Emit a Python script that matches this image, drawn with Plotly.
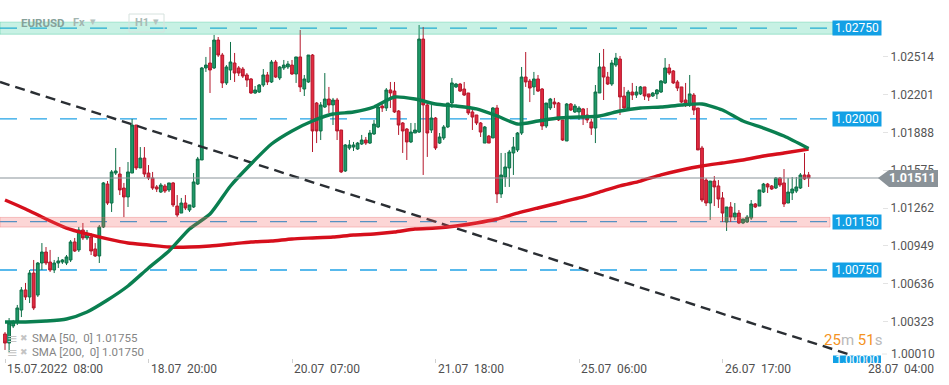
import plotly.graph_objects as go

# ---------------- data (EURUSD, H1 bars) ----------------
bar_index = list(range(197))

open_ = [
    1.00221, 1.00146, 1.00287, 1.00328, 1.00419, 1.00585, 1.00527, 1.00725, 1.00543, 1.00808,
    1.00899, 1.00816, 1.00750, 1.00808, 1.00816, 1.00808, 1.00833, 1.00982, 1.00916, 1.01081,
    1.01015, 1.01023, 1.00924, 1.00866, 1.01106, 1.01461, 1.01304, 1.01552, 1.01544, 1.01428,
    1.01354, 1.01552, 1.01949, 1.01594, 1.01676, 1.01552, 1.01511, 1.01437, 1.01395, 1.01445,
    1.01412, 1.01470, 1.01279, 1.01221, 1.01304, 1.01246, 1.01271, 1.01461, 1.01660, 1.02421,
    1.02462, 1.02421, 1.02652, 1.02528, 1.02297, 1.02404, 1.02462, 1.02421, 1.02412, 1.02363,
    1.02330, 1.02214, 1.02222, 1.02280, 1.02363, 1.02305, 1.02470, 1.02338, 1.02421, 1.02429,
    1.02445, 1.02371, 1.02512, 1.02247, 1.02305, 1.02528, 1.02131, 1.01900, 1.02098, 1.02164,
    1.02115, 1.02156, 1.01908, 1.01569, 1.01759, 1.01767, 1.01751, 1.01792, 1.01825, 1.01800,
    1.01875, 1.01933, 1.02106, 1.02090, 1.02239, 1.02230, 1.02065, 1.01966, 1.01916, 1.01809,
    1.01883, 1.01891, 1.02660, 1.02115, 1.01908, 1.02007, 1.01800, 1.01842, 1.01933, 1.02131,
    1.02264, 1.02288, 1.02247, 1.02214, 1.02057, 1.02032, 1.01966, 1.01800, 1.01858, 1.01842,
    1.02090, 1.01379, 1.01519, 1.01594, 1.01718, 1.01743, 1.01883, 1.02346, 1.02313, 1.02264,
    1.02330, 1.02247, 1.01941, 1.02090, 1.02139, 1.02131, 1.01991, 1.01817, 1.02123, 1.02057,
    1.02057, 1.02082, 1.02032, 1.01974, 1.01924, 1.02214, 1.02429, 1.02346, 1.02288, 1.02445,
    1.02495, 1.02189, 1.02090, 1.02222, 1.02197, 1.02206, 1.02264, 1.02206, 1.02189, 1.02206,
    1.02222, 1.02297, 1.02421, 1.02396, 1.02305, 1.02264, 1.02156, 1.02115, 1.02197, 1.02090,
    1.01759, 1.01494, 1.01304, 1.01486, 1.01445, 1.01346, 1.01147, 1.01271, 1.01188, 1.01221,
    1.01139, 1.01147, 1.01180, 1.01296, 1.01279, 1.01395, 1.01461, 1.01445, 1.01428, 1.01511,
    1.01470, 1.01304, 1.01387, 1.01403, 1.01428, 1.01536, 1.01536,
]

high_ = [
    1.00237, 1.00353, 1.00337, 1.00461, 1.00609, 1.00643, 1.00750, 1.00833, 1.00816, 1.00973,
    1.00940, 1.00916, 1.00833, 1.00858, 1.00841, 1.00874, 1.00998, 1.01015, 1.01106, 1.01139,
    1.01081, 1.01056, 1.00973, 1.01122, 1.01478, 1.01486, 1.01577, 1.01759, 1.01602, 1.01470,
    1.01643, 1.01999, 1.01949, 1.01767, 1.01767, 1.01618, 1.01561, 1.01453, 1.01470, 1.01461,
    1.01470, 1.01478, 1.01370, 1.01346, 1.01370, 1.01288, 1.01552, 1.01685, 1.02429, 1.02512,
    1.02594, 1.02694, 1.02677, 1.02545, 1.02445, 1.02636, 1.02545, 1.02437, 1.02429, 1.02379,
    1.02338, 1.02272, 1.02288, 1.02412, 1.02388, 1.02487, 1.02487, 1.02437, 1.02487, 1.02479,
    1.02487, 1.02512, 1.02735, 1.02363, 1.02528, 1.02536, 1.02139, 1.02139, 1.02379, 1.02264,
    1.02173, 1.02173, 1.01908, 1.01792, 1.01825, 1.01809, 1.01809, 1.01867, 1.01850, 1.01908,
    1.01991, 1.02106, 1.02131, 1.02255, 1.02305, 1.02305, 1.02073, 1.01974, 1.01924, 1.01966,
    1.01966, 1.02776, 1.02760, 1.02131, 1.02115, 1.02015, 1.01883, 1.01949, 1.02131, 1.02338,
    1.02297, 1.02297, 1.02305, 1.02214, 1.02073, 1.02032, 1.01974, 1.01941, 1.01867, 1.02098,
    1.02115, 1.01718, 1.01718, 1.01743, 1.01850, 1.01891, 1.02429, 1.02553, 1.02330, 1.02388,
    1.02363, 1.02255, 1.02131, 1.02173, 1.02173, 1.02139, 1.01991, 1.02131, 1.02131, 1.02123,
    1.02106, 1.02090, 1.02090, 1.01999, 1.02280, 1.02545, 1.02578, 1.02388, 1.02487, 1.02545,
    1.02520, 1.02264, 1.02239, 1.02297, 1.02272, 1.02272, 1.02264, 1.02206, 1.02222, 1.02247,
    1.02321, 1.02503, 1.02454, 1.02404, 1.02321, 1.02264, 1.02297, 1.02363, 1.02214, 1.02090,
    1.01776, 1.01511, 1.01486, 1.01527, 1.01494, 1.01395, 1.01271, 1.01312, 1.01304, 1.01246,
    1.01172, 1.01205, 1.01329, 1.01304, 1.01412, 1.01470, 1.01470, 1.01453, 1.01519, 1.01519,
    1.01585, 1.01511, 1.01519, 1.01519, 1.01552, 1.01718, 1.01561,
]

low_ = [
    1.00089, 1.00072, 1.00270, 1.00295, 1.00361, 1.00502, 1.00477, 1.00419, 1.00527, 1.00750,
    1.00791, 1.00734, 1.00725, 1.00767, 1.00800, 1.00791, 1.00816, 1.00899, 1.00899, 1.00998,
    1.00998, 1.00874, 1.00858, 1.00808, 1.01097, 1.01288, 1.01230, 1.01536, 1.01370, 1.01188,
    1.01271, 1.01552, 1.01577, 1.01594, 1.01519, 1.01494, 1.01412, 1.01395, 1.01387, 1.01387,
    1.01395, 1.01271, 1.01188, 1.01221, 1.01246, 1.01230, 1.01263, 1.01453, 1.01660, 1.02388,
    1.02214, 1.02412, 1.02512, 1.02255, 1.02280, 1.02321, 1.02305, 1.02354, 1.02338, 1.02264,
    1.02206, 1.02206, 1.02214, 1.02264, 1.02280, 1.02297, 1.02338, 1.02321, 1.02404, 1.02412,
    1.02363, 1.02297, 1.02222, 1.02189, 1.02297, 1.01726, 1.01800, 1.01825, 1.02090, 1.02049,
    1.01949, 1.01825, 1.01552, 1.01561, 1.01743, 1.01734, 1.01743, 1.01784, 1.01784, 1.01792,
    1.01867, 1.01924, 1.02057, 1.02065, 1.02090, 1.02049, 1.01867, 1.01718, 1.01660, 1.01800,
    1.01883, 1.01883, 1.01536, 1.01685, 1.01883, 1.01743, 1.01792, 1.01825, 1.01924, 1.02090,
    1.02255, 1.02222, 1.02189, 1.02032, 1.01908, 1.01949, 1.01850, 1.01800, 1.01800, 1.01842,
    1.01304, 1.01346, 1.01437, 1.01437, 1.01536, 1.01726, 1.01867, 1.02264, 1.02139, 1.02197,
    1.02222, 1.01908, 1.01924, 1.02073, 1.02090, 1.01982, 1.01817, 1.01817, 1.02065, 1.02049,
    1.01991, 1.01949, 1.01966, 1.01867, 1.01800, 1.02214, 1.02156, 1.02280, 1.02272, 1.02429,
    1.02032, 1.02057, 1.02073, 1.02156, 1.02173, 1.02197, 1.02156, 1.02148, 1.02181, 1.02164,
    1.02214, 1.02288, 1.02363, 1.02288, 1.02230, 1.02131, 1.02098, 1.02098, 1.02032, 1.01743,
    1.01312, 1.01279, 1.01164, 1.01279, 1.01263, 1.01147, 1.01073, 1.01147, 1.01164, 1.01130,
    1.01130, 1.01139, 1.01164, 1.01263, 1.01279, 1.01387, 1.01387, 1.01412, 1.01420, 1.01437,
    1.01271, 1.01304, 1.01329, 1.01387, 1.01420, 1.01494, 1.01437,
]

close_ = [
    1.00146, 1.00312, 1.00320, 1.00436, 1.00585, 1.00527, 1.00725, 1.00436, 1.00808, 1.00899,
    1.00808, 1.00750, 1.00808, 1.00825, 1.00833, 1.00858, 1.00982, 1.00907, 1.01081, 1.01015,
    1.01048, 1.00907, 1.00866, 1.01106, 1.01470, 1.01304, 1.01561, 1.01569, 1.01412, 1.01354,
    1.01561, 1.01949, 1.01594, 1.01676, 1.01544, 1.01511, 1.01428, 1.01420, 1.01453, 1.01403,
    1.01470, 1.01288, 1.01205, 1.01304, 1.01263, 1.01288, 1.01478, 1.01668, 1.02421, 1.02445,
    1.02404, 1.02652, 1.02528, 1.02297, 1.02429, 1.02470, 1.02379, 1.02379, 1.02354, 1.02321,
    1.02214, 1.02239, 1.02280, 1.02363, 1.02305, 1.02470, 1.02346, 1.02429, 1.02445, 1.02454,
    1.02371, 1.02512, 1.02264, 1.02330, 1.02528, 1.01900, 1.01900, 1.02115, 1.02164, 1.02115,
    1.02156, 1.01900, 1.01561, 1.01784, 1.01784, 1.01784, 1.01800, 1.01825, 1.01800, 1.01883,
    1.01957, 1.02098, 1.02090, 1.02239, 1.02214, 1.02057, 1.01949, 1.01900, 1.01809, 1.01891,
    1.01908, 1.02660, 1.02115, 1.01883, 1.02007, 1.01759, 1.01850, 1.01933, 1.02131, 1.02297,
    1.02288, 1.02230, 1.02197, 1.02049, 1.02015, 1.01966, 1.01891, 1.01933, 1.01800, 1.02090,
    1.01379, 1.01536, 1.01602, 1.01726, 1.01767, 1.01883, 1.02346, 1.02305, 1.02255, 1.02330,
    1.02230, 1.01941, 1.02131, 1.02164, 1.02123, 1.01991, 1.01825, 1.02123, 1.02073, 1.02106,
    1.02090, 1.02007, 1.01991, 1.01924, 1.02222, 1.02429, 1.02346, 1.02288, 1.02462, 1.02503,
    1.02181, 1.02090, 1.02222, 1.02197, 1.02222, 1.02264, 1.02189, 1.02181, 1.02214, 1.02239,
    1.02313, 1.02421, 1.02379, 1.02297, 1.02255, 1.02139, 1.02131, 1.02206, 1.02073, 1.01743,
    1.01329, 1.01304, 1.01486, 1.01437, 1.01337, 1.01221, 1.01271, 1.01188, 1.01221, 1.01139,
    1.01172, 1.01188, 1.01296, 1.01271, 1.01412, 1.01461, 1.01437, 1.01420, 1.01511, 1.01453,
    1.01296, 1.01395, 1.01420, 1.01437, 1.01536, 1.01503, 1.01511,
]

# moving averages every 5 bars
sma_bars = [0, 5, 10, 15, 20, 25, 30, 35, 40, 45, 50, 55, 60, 65, 70, 75, 80, 85, 90, 95,
            100, 105, 110, 115, 120, 125, 130, 135, 140, 145, 150, 155, 160, 165, 170, 175,
            180, 185, 190, 196]
sma50 = [1.00320, 1.00320, 1.00328, 1.00345, 1.00403, 1.00502, 1.00618, 1.00767, 1.00907, 1.01089,
         1.01213, 1.01445, 1.01627, 1.01792, 1.01900, 1.01982, 1.02040, 1.02057, 1.02098, 1.02181,
         1.02164, 1.02123, 1.02106, 1.02082, 1.02024, 1.01957, 1.01982, 1.02007, 1.02015, 1.02024,
         1.02065, 1.02090, 1.02098, 1.02115, 1.02123, 1.02073, 1.01982, 1.01924, 1.01858, 1.01755]
sma200 = [1.01329, 1.01255, 1.01172, 1.01097, 1.01048, 1.01007, 1.00973, 1.00957, 1.00940, 1.00940,
          1.00949, 1.00965, 1.00982, 1.00990, 1.01007, 1.01015, 1.01023, 1.01040, 1.01048, 1.01064,
          1.01089, 1.01097, 1.01114, 1.01139, 1.01172, 1.01221, 1.01263, 1.01304, 1.01346, 1.01395,
          1.01445, 1.01486, 1.01536, 1.01577, 1.01610, 1.01635, 1.01660, 1.01693, 1.01718, 1.01750]

trend_bars = [-1.22, 205.6]
trend_prices = [1.02305, 1.00055]

level_prices = [1.02750, 1.02000, 1.01150, 1.00750]
level_labels = ["1.02750", "1.02000", "1.01150", "1.00750"]
bottom_level = 1.00000
bottom_label = "1.00000"
green_zone = [1.02700, 1.02800]
red_zone = [1.01105, 1.01185]
last_price = 1.01511
last_label = "1.01511"

ytick_vals = [1.02514, 1.02201, 1.01888, 1.01575, 1.01262, 1.00949, 1.00636, 1.00323]
ytick_text = ["1.02514", "1.02201", "1.01888", "1.01575", "1.01262", "1.00949", "1.00636", "1.00323"]
ytick_bottom = "1.00010"

xtick_bars = [0, 35, 70, 105, 140, 175, 210]
xtick_text = ["15.07.2022\u00a0\u00a008:00", "18.07\u00a0\u00a020:00", "20.07\u00a0\u00a007:00",
              "21.07\u00a0\u00a018:00", "25.07\u00a0\u00a006:00", "26.07\u00a0\u00a017:00",
              "28.07\u00a0\u00a004:00"]
legend_lines = ["SMA [50,\u00a0\u00a00] 1.01755", "SMA [200,\u00a0\u00a00] 1.01750"]

# ---------------- geometry helpers (layout only) ----------------
W, H = 949, 385
MB = 22
PLOT_H = H - MB
X0_PX, STEP_PX = 5.0, 4.1
Y_TOP, Y_BOT = 1.02983, 0.99981


def px_to_bar(px):
    return (px - X0_PX) / STEP_PX


def py_to_price(py):
    return Y_TOP - py * (Y_TOP - Y_BOT) / PLOT_H


def pxp(px):
    return px / W


def pyp(py):
    return 1 - py / PLOT_H


FONT = "Roboto"
UP_FILL, UP_LINE = "#1f9a69", "#0d6f47"
DN_FILL, DN_LINE = "#e22a40", "#b5172b"
BLUE = "#12a0e5"

fig = go.Figure()

fig.add_trace(go.Candlestick(
    x=bar_index, open=open_, high=high_, low=low_, close=close_,
    increasing=dict(line=dict(color=UP_LINE, width=1), fillcolor=UP_FILL),
    decreasing=dict(line=dict(color=DN_LINE, width=1), fillcolor=DN_FILL),
    whiskerwidth=0, hoverinfo="skip", showlegend=False,
))

fig.add_trace(go.Scatter(
    x=trend_bars, y=trend_prices, mode="lines",
    line=dict(color="#2a2e33", width=2.4, dash="10px,6px"),
    hoverinfo="skip", showlegend=False,
))

fig.add_trace(go.Scatter(
    x=sma_bars, y=sma200, mode="lines",
    line=dict(color="#d60f1c", width=3.4, shape="spline", smoothing=0.6),
    hoverinfo="skip", showlegend=False,
))
fig.add_trace(go.Scatter(
    x=sma_bars, y=sma50, mode="lines",
    line=dict(color="#0a7f50", width=3.4, shape="spline", smoothing=0.6),
    hoverinfo="skip", showlegend=False,
))

# bottom level label text (clipped by the plot area like the original)
fig.add_trace(go.Scatter(
    x=[px_to_bar(857)], y=[bottom_level], mode="text", text=[bottom_label],
    textfont=dict(family=FONT, size=12, color="white"), textposition="middle center",
    hoverinfo="skip", showlegend=False, cliponaxis=True,
))

shapes = []
for p in level_prices:
    shapes.append(dict(type="line", xref="paper", yref="y", x0=0, x1=pxp(833), y0=p, y1=p,
                       line=dict(color="#22a3e6", width=1.4, dash="17px,13px"), layer="below"))
shapes.append(dict(type="rect", xref="paper", yref="y", x0=pxp(833), x1=pxp(881),
                   y0=py_to_price(369), y1=py_to_price(355.5), fillcolor=BLUE,
                   line=dict(width=0), layer="below"))
shapes.append(dict(type="rect", xref="paper", yref="y", x0=0, x1=pxp(833),
                   y0=green_zone[0], y1=green_zone[1], fillcolor="rgba(40,200,150,0.26)",
                   line=dict(color="rgba(40,190,140,0.35)", width=1), layer="above"))
shapes.append(dict(type="rect", xref="paper", yref="y", x0=0, x1=pxp(830),
                   y0=red_zone[0], y1=red_zone[1], fillcolor="rgba(242,90,90,0.25)",
                   line=dict(color="rgba(235,100,100,0.35)", width=1), layer="above"))
shapes.append(dict(type="line", xref="paper", yref="y", x0=0, x1=pxp(879), y0=last_price,
                   y1=last_price, line=dict(color="#89939a", width=1.2), layer="above"))
yt, yb, ym = py_to_price(170), py_to_price(187), last_price
path = (f"M {pxp(878)},{ym} L {pxp(889)},{yt} L {pxp(938)},{yt} "
        f"L {pxp(938)},{yb} L {pxp(889)},{yb} Z")
shapes.append(dict(type="path", xref="paper", yref="y", path=path, fillcolor="#8a9298",
                   line=dict(width=0), layer="above"))
shapes.append(dict(type="rect", xref="paper", yref="paper", x0=pxp(129), x1=pxp(164),
                   y0=pyp(32), y1=pyp(14), fillcolor="rgba(255,255,255,0)",
                   line=dict(color="#d6e2de", width=1), layer="above"))
shapes.append(dict(type="line", xref="paper", yref="paper", x0=pxp(882), x1=pxp(887),
                   y0=pyp(354), y1=pyp(354), line=dict(color="#e6e6e6", width=1)))

ann = []
for p, t in zip(level_prices, level_labels):
    ann.append(dict(xref="paper", yref="y", x=pxp(857), y=p, text=t, showarrow=False,
                    xanchor="center", yanchor="middle", bgcolor=BLUE, width=48, height=14,
                    borderpad=0, font=dict(family=FONT, size=12, color="white")))
ann.append(dict(xref="paper", yref="y", x=pxp(912), y=last_price, text=f"<b>{last_label}</b>",
                showarrow=False, xanchor="center", yanchor="middle",
                font=dict(family=FONT, size=12.5, color="white")))
ann.append(dict(xref="paper", yref="paper", x=pxp(889), y=pyp(354), text=ytick_bottom,
                showarrow=False, xanchor="left", yanchor="middle",
                font=dict(family=FONT, size=12, color="#555555")))
for b, t in zip(xtick_bars, xtick_text):
    ann.append(dict(xref="x", yref="paper", x=b, y=0, text=t, showarrow=False,
                    xanchor="left", yanchor="top", yshift=3,
                    font=dict(family=FONT, size=12, color="#4f4f4f")))
ann.append(dict(xref="paper", yref="paper", x=pxp(822), y=pyp(340),
                text=('<span style="color:#f4931f">25</span><span style="color:#b9b9b9">m</span> '
                      '<span style="color:#f4931f">51</span><span style="color:#b9b9b9">s</span>'),
                showarrow=False, xanchor="left", yanchor="middle",
                font=dict(family=FONT, size=15, color="#f4931f")))
for i, t in enumerate(legend_lines):
    yy = 338 + i * 14
    ann.append(dict(xref="paper", yref="paper", x=pxp(5), y=pyp(yy), text="\u2261",
                    showarrow=False, xanchor="left", yanchor="middle",
                    font=dict(family="DejaVu Sans", size=13, color="#c4c4c4")))
    ann.append(dict(xref="paper", yref="paper", x=pxp(18), y=pyp(yy), text="\u2716",
                    showarrow=False, xanchor="left", yanchor="middle",
                    font=dict(family="DejaVu Sans", size=9, color="#c4c4c4")))
    ann.append(dict(xref="paper", yref="paper", x=pxp(30), y=pyp(yy), text=t,
                    showarrow=False, xanchor="left", yanchor="middle",
                    font=dict(family=FONT, size=11.5, color="#858585")))
ann.append(dict(xref="paper", yref="paper", x=pxp(19), y=pyp(23), text="<b>EURUSD</b>",
                showarrow=False, xanchor="left", yanchor="middle",
                font=dict(family=FONT, size=11.5, color="#86a099")))
ann.append(dict(xref="paper", yref="paper", x=pxp(71), y=pyp(23), text="<b>Fx</b>",
                showarrow=False, xanchor="left", yanchor="middle",
                font=dict(family=FONT, size=11, color="#a3b5b0")))
ann.append(dict(xref="paper", yref="paper", x=pxp(88), y=pyp(22), text="\u25be",
                showarrow=False, xanchor="left", yanchor="middle",
                font=dict(family="DejaVu Sans", size=11, color="#b3c2be")))
ann.append(dict(xref="paper", yref="paper", x=pxp(133), y=pyp(23), text="<b>H1</b>",
                showarrow=False, xanchor="left", yanchor="middle",
                font=dict(family=FONT, size=11, color="#a9bab5")))
ann.append(dict(xref="paper", yref="paper", x=pxp(151), y=pyp(22), text="\u25be",
                showarrow=False, xanchor="left", yanchor="middle",
                font=dict(family="DejaVu Sans", size=11, color="#b3c2be")))

fig.update_layout(
    width=W, height=H,
    margin=dict(l=0, r=0, t=0, b=MB),
    paper_bgcolor="white", plot_bgcolor="white",
    showlegend=False,
    font=dict(family=FONT, size=12, color="#555555"),
    shapes=shapes, annotations=ann,
    boxgap=0.25, boxgroupgap=0.1,
    xaxis=dict(range=[px_to_bar(0), px_to_bar(W)], showgrid=False, zeroline=False,
               showline=False, showticklabels=False, tickmode="array", tickvals=xtick_bars,
               ticks="inside", ticklen=4, tickcolor="#d0d0d0",
               rangeslider=dict(visible=False), fixedrange=True),
    yaxis=dict(range=[Y_BOT, Y_TOP], showgrid=False, zeroline=False, showline=False,
               side="right", anchor="free", position=pxp(882),
               tickmode="array", tickvals=ytick_vals, ticktext=ytick_text,
               ticks="outside", ticklen=5, tickcolor="#e3e3e3",
               tickfont=dict(family=FONT, size=12, color="#555555"), fixedrange=True),
)

fig.write_html(
    "out.html",
    config={"displayModeBar": False},
    post_script="document.body.style.margin='0';document.body.style.overflow='hidden';",
)
